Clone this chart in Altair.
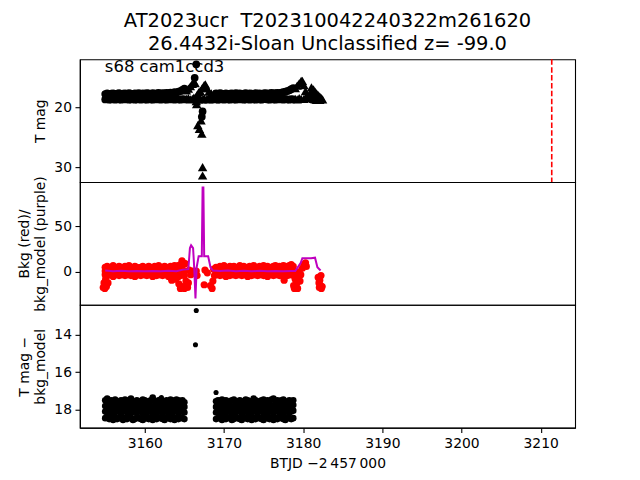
import altair as alt
import pandas as pd

# ---------------- data ----------------
title_lines = ["AT2023ucr\u00a0 T202310042240322m261620", "26.4432i-Sloan Unclassified z= -99.0"]
sector_label = "s68 cam1ccd3"
x_title = "BTJD \u22122\u2009457\u2009000"
x_ticks = [3160, 3170, 3180, 3190, 3200, 3210]
ref_time = [3211.4]

t_a = [3155.0, 3155.25, 3155.5, 3155.75, 3156.0, 3156.25, 3156.5, 3156.75, 3157.0, 3157.25,
       3157.5, 3157.75, 3158.0, 3158.25, 3158.5, 3158.75, 3159.0, 3159.25, 3159.5, 3159.75,
       3160.0, 3160.25, 3160.5, 3160.75, 3161.0, 3161.25, 3161.5, 3161.75, 3162.0, 3162.25,
       3162.5, 3162.75, 3163.0, 3163.25, 3163.5, 3163.75, 3164.0, 3164.25, 3164.5, 3164.75, 3165.0]
t_b = [3169.0, 3169.25, 3169.5, 3169.75, 3170.0, 3170.25, 3170.5, 3170.75, 3171.0, 3171.25,
       3171.5, 3171.75, 3172.0, 3172.25, 3172.5, 3172.75, 3173.0, 3173.25, 3173.5, 3173.75,
       3174.0, 3174.25, 3174.5, 3174.75, 3175.0, 3175.25, 3175.5, 3175.75, 3176.0, 3176.25,
       3176.5, 3176.75, 3177.0, 3177.25, 3177.5, 3177.75, 3178.0, 3178.25, 3178.5, 3178.75]

# top panel: T mag detections (two rows of the dense band)
top_hi_a = [17.8, 17.7, 17.85, 17.75, 17.7, 17.8, 17.75, 17.65, 17.8, 17.75,
            17.7, 17.8, 17.65, 17.75, 17.8, 17.7, 17.75, 17.65, 17.8, 17.7,
            17.75, 17.65, 17.7, 17.8, 17.65, 17.75, 17.7, 17.6, 17.75, 17.65,
            17.7, 17.6, 17.65, 17.55, 17.65, 17.5, 17.55, 17.4, 17.3, 17.1, 16.9]
top_hi_b = [17.7, 17.8, 17.65, 17.75, 17.8, 17.7, 17.85, 17.75, 17.7, 17.8,
            17.65, 17.75, 17.7, 17.8, 17.75, 17.65, 17.8, 17.7, 17.75, 17.8,
            17.65, 17.75, 17.7, 17.8, 17.7, 17.65, 17.75, 17.7, 17.6, 17.7,
            17.65, 17.6, 17.65, 17.55, 17.5, 17.4, 17.3, 17.2, 17.0, 16.8]
top_lo_a = [18.7, 18.65, 18.75, 18.7, 18.6, 18.75, 18.65, 18.7, 18.75, 18.65,
            18.7, 18.6, 18.75, 18.7, 18.65, 18.75, 18.7, 18.65, 18.75, 18.6,
            18.7, 18.75, 18.65, 18.7, 18.75, 18.65, 18.7, 18.6, 18.75, 18.65,
            18.7, 18.75, 18.65, 18.7, 18.6, 18.75, 18.65, 18.7, 18.75, 18.65, 18.7]
top_lo_b = [18.65, 18.75, 18.7, 18.6, 18.75, 18.65, 18.7, 18.75, 18.65, 18.7,
            18.75, 18.6, 18.7, 18.65, 18.75, 18.7, 18.65, 18.75, 18.6, 18.7,
            18.75, 18.65, 18.7, 18.75, 18.65, 18.6, 18.7, 18.75, 18.65, 18.7,
            18.75, 18.65, 18.7, 18.6, 18.75, 18.65, 18.7, 18.75, 18.65, 18.7]
top_extra_t = [3166.5, 3166.3, 3167.3, 3167.2]
top_extra_v = [12.85, 15.1, 20.7, 21.6]

# top panel: upper limits (triangles)
tri_t = [3165.25, 3165.25, 3165.5, 3165.5, 3165.75, 3165.75, 3166.0, 3166.0, 3166.2, 3166.2,
         3166.35, 3166.5, 3166.55, 3166.6, 3166.8, 3166.8, 3167.0, 3167.0, 3167.25, 3167.25,
         3167.5, 3167.5, 3167.65, 3167.85, 3167.85, 3168.1, 3168.1, 3168.4, 3168.4, 3168.7,
         3168.7, 3167.1, 3166.7, 3166.9, 3167.2, 3167.3, 3167.3, 3179.0, 3179.0, 3179.25,
         3179.25, 3179.5, 3179.5, 3179.75, 3179.75, 3179.9, 3180.1, 3180.1, 3180.3, 3180.3,
         3180.45, 3180.9, 3180.9, 3181.05, 3181.1, 3181.1, 3181.3, 3181.3, 3181.5, 3181.5,
         3181.7, 3181.7, 3181.9, 3181.9, 3182.1, 3182.1, 3182.3, 3182.45]
tri_v = [17.2, 18.6, 16.9, 18.5, 16.5, 18.7, 16.1, 18.6, 15.7, 18.4,
         16.0, 19.0, 19.5, 18.0, 17.5, 18.7, 17.3, 18.6, 16.8, 18.7,
         16.3, 18.5, 16.2, 16.8, 18.6, 17.4, 18.7, 17.7, 18.6, 17.8,
         18.65, 22.2, 23.0, 23.6, 24.4, 30.0, 31.4, 16.8, 18.6, 16.4,
         18.7, 16.0, 18.5, 15.6, 18.6, 15.6, 16.3, 18.6, 17.3, 18.5,
         18.2, 17.6, 18.4, 16.7, 17.5, 18.4, 17.0, 18.6, 17.4, 18.7,
         17.7, 18.8, 18.0, 18.7, 18.2, 18.8, 18.5, 18.7]

# middle panel: background (red), three rows of the band plus excursions
bkg_hi_a = [5, 6, 4, 5, 7, 5, 4, 6, 5, 4, 6, 5, 7, 5, 4, 6, 5, 4, 5, 6,
            4, 5, 6, 5, 4, 6, 5, 7, 5, 4, 6, 5, 4, 6, 5, 7, 6, 7, 8, 7, 9]
bkg_hi_b = [5, 4, 6, 5, 7, 5, 4, 6, 5, 6, 4, 5, 7, 5, 6, 4, 5, 6, 5, 7,
            5, 4, 6, 5, 7, 5, 6, 4, 5, 6, 7, 5, 6, 5, 7, 6, 5, 7, 8, 6]
bkg_mid_a = [1, 0, 2, 1, 0, 1, 2, 0, 1, 1, 0, 2, 1, 0, 1, 2, 0, 1, 1, 0,
             2, 1, 0, 1, 2, 1, 0, 1, 2, 0, 1, 1, 0, 2, 1, 0, 1, 2, 1, 0, 1]
bkg_mid_b = [1, 2, 0, 1, 1, 0, 2, 1, 0, 1, 2, 0, 1, 1, 0, 2, 1, 0, 1, 2,
             0, 1, 1, 0, 2, 1, 0, 1, 1, 2, 0, 1, 0, 2, 1, 1, 0, 1, 2, 0]
bkg_lo_a = [-3, -4, -2, -3, -5, -3, -2, -4, -3, -2, -4, -3, -2, -4, -3, -5, -2, -3, -4, -2,
            -3, -4, -3, -2, -5, -3, -4, -2, -3, -4, -2, -3, -5, -3, -2, -4, -3, -5, -4, -3, -4]
bkg_lo_b = [-3, -2, -4, -3, -2, -5, -3, -4, -2, -3, -4, -3, -2, -4, -3, -2, -5, -3, -4, -2,
            -3, -4, -3, -2, -4, -3, -5, -2, -3, -4, -3, -2, -4, -3, -5, -3, -4, -3, -2, -4]
bkg_extra_t = [3154.75, 3154.85, 3154.95, 3155.05, 3155.15, 3155.25, 3155.35,
               3163.4, 3163.9, 3164.3, 3164.5, 3164.7, 3164.8, 3165.0, 3165.1, 3165.2, 3165.4,
               3165.5, 3165.6, 3165.8, 3166.0, 3166.5, 3166.6, 3167.5, 3167.6, 3167.9, 3168.3,
               3168.5, 3168.6, 3168.7, 3168.8, 3177.6, 3178.8, 3178.9, 3179.0, 3179.1, 3179.2,
               3179.3, 3179.4, 3179.5, 3179.6, 3179.7, 3179.9, 3180.1, 3180.3, 3180.4, 3181.9,
               3182.0, 3182.05, 3182.1, 3182.2, 3182.25, 3182.3, 3182.4]
bkg_extra_v = [-17, -12, -18, -8, -16, -4, -12,
               -9, -8, -13, -18, 12, -16, -18, 9, -10, -17,
               -12, 2, -3, 1, 1, -4, -14, 2, -1, -15,
               -18, -10, 3, -4, -9, -15, -18, -8, -17, -12,
               -18, -5, 0, -10, -3, 4, 8, 10, 6, -6,
               -12, -17, -9, -15, -4, -18, -16]

# middle panel: background model (purple line)
model_t = [3155.0, 3156.0, 3157.0, 3158.0, 3159.0, 3160.0, 3161.0, 3162.0, 3163.0, 3164.0,
           3164.8, 3165.5, 3165.7, 3165.85, 3166.1, 3166.25, 3166.4, 3166.55, 3166.8, 3167.2,
           3167.3, 3167.4, 3167.5, 3168.0, 3168.3, 3168.6, 3169.5, 3170.5, 3171.5, 3172.5,
           3173.5, 3174.5, 3175.5, 3176.5, 3177.5, 3178.5, 3179.0, 3179.4, 3179.7, 3179.9,
           3180.5, 3181.0, 3181.5, 3181.8, 3182.2]
model_v = [1.5, 0.8, 1.3, 0.7, 1.1, 0.6, 1.0, 0.8, 1.2, 0.7,
           2.5, 3, 26, 29, 26, 3, -29, 5, 17, 17,
           92, 92, 17, 17, 5, 1.5, 1.0, 1.4, 0.8, 1.2,
           0.6, 1.3, 0.7, 1.1, 0.6, 0.9, 1.0, 6, 10, 15,
           15, 15, 15.5, 5, 1.5]

# bottom panel: T mag - bkg_model, four rows of the band plus isolated points
bot_l1_a = [17.5, 17.4, 17.55, 17.5, 17.6, 17.45, 17.55, 17.6, 17.5, 17.55,
            17.45, 17.6, 17.5, 17.4, 17.55, 17.6, 17.5, 17.55, 17.6, 17.45,
            17.5, 17.55, 17.6, 17.5, 17.35, 17.55, 17.6, 17.5, 17.45, 17.55,
            17.6, 17.5, 17.55, 17.45, 17.5, 17.6, 17.45, 17.5, 17.55, 17.5, 17.6]
bot_l1_b = [17.55, 17.5, 17.6, 17.45, 17.55, 17.5, 17.6, 17.55, 17.5, 17.45,
            17.6, 17.55, 17.5, 17.55, 17.6, 17.45, 17.5, 17.55, 17.6, 17.4,
            17.5, 17.55, 17.6, 17.5, 17.45, 17.55, 17.5, 17.6, 17.45, 17.4,
            17.55, 17.5, 17.6, 17.5, 17.45, 17.55, 17.6, 17.5, 17.55, 17.5]
bot_l2_a = [17.8, 17.85, 17.75, 17.9, 17.8, 17.85, 17.75, 17.8, 17.9, 17.8,
            17.75, 17.85, 17.8, 17.9, 17.75, 17.8, 17.85, 17.8, 17.75, 17.9,
            17.8, 17.85, 17.75, 17.8, 17.9, 17.8, 17.85, 17.75, 17.8, 17.9,
            17.8, 17.75, 17.85, 17.8, 17.9, 17.75, 17.8, 17.85, 17.8, 17.75, 17.85]
bot_l2_b = [17.85, 17.8, 17.75, 17.9, 17.8, 17.85, 17.75, 17.8, 17.9, 17.8,
            17.85, 17.75, 17.8, 17.9, 17.8, 17.75, 17.85, 17.8, 17.9, 17.75,
            17.8, 17.85, 17.8, 17.75, 17.9, 17.8, 17.85, 17.75, 17.8, 17.9,
            17.8, 17.75, 17.85, 17.8, 17.9, 17.75, 17.8, 17.85, 17.8, 17.75]
bot_l3_a = [18.1, 18.15, 18.05, 18.2, 18.1, 18.15, 18.05, 18.1, 18.2, 18.1,
            18.05, 18.15, 18.1, 18.2, 18.05, 18.1, 18.15, 18.1, 18.05, 18.2,
            18.1, 18.15, 18.05, 18.1, 18.2, 18.1, 18.15, 18.05, 18.1, 18.2,
            18.1, 18.05, 18.15, 18.1, 18.2, 18.05, 18.1, 18.15, 18.1, 18.05, 18.15]
bot_l3_b = [18.15, 18.1, 18.05, 18.2, 18.1, 18.15, 18.05, 18.1, 18.2, 18.1,
            18.15, 18.05, 18.1, 18.2, 18.1, 18.05, 18.15, 18.1, 18.2, 18.05,
            18.1, 18.15, 18.1, 18.05, 18.2, 18.1, 18.15, 18.05, 18.1, 18.2,
            18.1, 18.05, 18.15, 18.1, 18.2, 18.05, 18.1, 18.15, 18.1, 18.05]
bot_l4_a = [18.45, 18.4, 18.5, 18.45, 18.55, 18.4, 18.5, 18.45, 18.4, 18.55,
            18.45, 18.5, 18.4, 18.45, 18.55, 18.5, 18.4, 18.45, 18.5, 18.55,
            18.4, 18.45, 18.5, 18.4, 18.55, 18.45, 18.5, 18.4, 18.45, 18.5,
            18.55, 18.4, 18.45, 18.5, 18.4, 18.55, 18.45, 18.5, 18.4, 18.45, 18.5]
bot_l4_b = [18.5, 18.45, 18.4, 18.55, 18.45, 18.5, 18.4, 18.45, 18.55, 18.5,
            18.4, 18.45, 18.5, 18.55, 18.4, 18.45, 18.5, 18.4, 18.55, 18.45,
            18.5, 18.4, 18.45, 18.5, 18.55, 18.4, 18.45, 18.5, 18.4, 18.55,
            18.45, 18.5, 18.4, 18.45, 18.5, 18.55, 18.4, 18.45, 18.5, 18.45]
bot_extra_t = [3162.1, 3166.5, 3166.4, 3169.0]
bot_extra_v = [17.35, 12.7, 14.53, 17.08]

# ---------------- tables ----------------
times = t_a + t_b


def rows(ts, vs):
    return [{"t": t, "v": v} for t, v in zip(ts, vs)]


top_circ = pd.DataFrame(rows(times, top_hi_a + top_hi_b) + rows(times, top_lo_a + top_lo_b)
                        + rows(top_extra_t, top_extra_v))
top_tri = pd.DataFrame(rows(tri_t, tri_v))
bkg_df = pd.DataFrame(rows(times, bkg_hi_a + bkg_hi_b) + rows(times, bkg_mid_a + bkg_mid_b)
                      + rows(times, bkg_lo_a + bkg_lo_b) + rows(bkg_extra_t, bkg_extra_v))
model_df = pd.DataFrame(rows(model_t, model_v))
bot_band = pd.DataFrame(rows(times, bot_l1_a + bot_l1_b) + rows(times, bot_l2_a + bot_l2_b)
                        + rows(times, bot_l3_a + bot_l3_b) + rows(times, bot_l4_a + bot_l4_b))
bot_iso = pd.DataFrame(rows(bot_extra_t, bot_extra_v))
rule_df = pd.DataFrame({"t": ref_time})
label_df = pd.DataFrame({"label": [sector_label]})

# ---------------- chart ----------------
W, H = 496, 123
FONT = "DejaVu Sans"
xscale = alt.Scale(domain=[3151.8, 3214.35], nice=False, zero=False)
x_hidden = alt.X("t:Q", scale=xscale, axis=None)

top_y = alt.Y("v:Q", scale=alt.Scale(domain=[12, 32.5], reverse=True, nice=False, zero=False),
              axis=alt.Axis(values=[20, 30], title="T mag"))
top = alt.layer(
    alt.Chart(top_circ).mark_point(shape="circle", filled=True, size=60, color="black",
                                   opacity=1, clip=True).encode(x=x_hidden, y=top_y),
    alt.Chart(top_tri).mark_point(shape="triangle-up", filled=True, size=90, color="black",
                                  opacity=1, clip=True).encode(x=x_hidden, y=top_y),
    alt.Chart(rule_df).mark_rule(color="#ff0000", strokeDash=[5.5, 2.4], strokeWidth=1.6).encode(x=x_hidden),
    alt.Chart(label_df).mark_text(align="left", baseline="alphabetic", fontSize=16.5, font=FONT,
                                  color="black").encode(x=alt.value(25), y=alt.value(12.5), text="label:N"),
).properties(width=W, height=H)

mid_y = alt.Y("v:Q", scale=alt.Scale(domain=[-36, 98], nice=False, zero=False),
              axis=alt.Axis(values=[0, 50], title=["Bkg (red)/", "bkg_model (purple)"]))
mid = alt.layer(
    alt.Chart(bkg_df).mark_point(shape="circle", filled=True, size=52, color="#ff0000",
                                 opacity=1, clip=True).encode(x=x_hidden, y=mid_y),
    alt.Chart(model_df).mark_line(color="#bf00bf", strokeWidth=2, clip=True).encode(x=x_hidden, y=mid_y),
).properties(width=W, height=H)

bot_y = alt.Y("v:Q", scale=alt.Scale(domain=[12.4, 18.96], reverse=True, nice=False, zero=False),
              axis=alt.Axis(values=[14, 16, 18], title=["T mag \u2212", "bkg_model"]))
bot_x = alt.X("t:Q", scale=xscale,
              axis=alt.Axis(values=x_ticks, format="d", title=x_title))
bot = alt.layer(
    alt.Chart(bot_band).mark_point(shape="circle", filled=True, size=44, color="black",
                                   opacity=1, clip=True).encode(x=bot_x, y=bot_y),
    alt.Chart(bot_iso).mark_point(shape="circle", filled=True, size=26, color="black",
                                  opacity=1, clip=True).encode(x=bot_x, y=bot_y),
).properties(width=W, height=H)

chart = alt.vconcat(top, mid, bot, spacing=0, bounds="flush").properties(
    title=alt.Title(title_lines, fontSize=19.5, font=FONT, fontWeight="normal", color="black",
                    anchor="middle", frame="group", offset=3, lineHeight=23),
    padding={"left": 16, "top": 11, "right": 64, "bottom": 8},
).configure_view(
    stroke="black", strokeWidth=1.1
).configure_axis(
    grid=False, domainColor="black", domainWidth=1.1, tickColor="black", tickWidth=1.1,
    tickSize=4.9, labelPadding=3.5, labelFontSize=13.9, labelFont=FONT, labelColor="black",
    titleFontSize=13.9, titleFont=FONT, titleColor="black", titleFontWeight="normal",
    titlePadding=6.5, titleLineHeight=16, labelFlush=False
)

chart.save("out.html", embed_options={"renderer": "svg", "actions": False})
